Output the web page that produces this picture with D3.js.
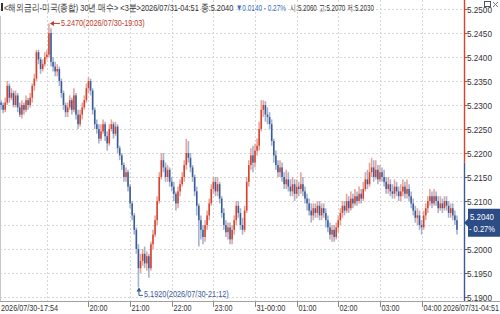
<!DOCTYPE html>
<html><head><meta charset="utf-8">
<script src="https://cdn.jsdelivr.net/npm/d3@7"></script>
<style>
html,body{margin:0;padding:0;background:#fff;}
svg{display:block;}
text{font-family:"Liberation Sans","DejaVu Sans",sans-serif;}
</style></head>
<body><svg id="c" width="500" height="314"></svg>
<script>
// ---------- data ----------
const startTime = "2026-07-30T17:54:00";
const barMinutes = 3;
const closes = [
5.2300,5.2290,5.2305,5.2340,5.2315,5.2325,5.2300,5.2320,5.2295,5.2280,
5.2300,5.2290,5.2310,5.2300,5.2315,5.2340,5.2355,5.2410,5.2395,5.2375,
5.2385,5.2400,5.2405,5.2450,5.2390,5.2380,5.2370,5.2375,5.2350,5.2325,
5.2300,5.2285,5.2295,5.2310,5.2290,5.2320,5.2280,5.2260,5.2280,5.2295,
5.2310,5.2335,5.2350,5.2330,5.2290,5.2260,5.2250,5.2230,5.2245,5.2260,
5.2235,5.2220,5.2250,5.2260,5.2240,5.2255,5.2210,5.2195,5.2175,5.2150,
5.2160,5.2130,5.2095,5.2070,5.2040,5.2000,5.1960,5.1975,5.1990,5.1970,
5.1985,5.1960,5.2010,5.2030,5.2060,5.2100,5.2150,5.2185,5.2170,5.2150,
5.2165,5.2140,5.2130,5.2115,5.2095,5.2120,5.2135,5.2150,5.2175,5.2200,
5.2190,5.2170,5.2150,5.2120,5.2090,5.2060,5.2040,5.2025,5.2050,5.2070,
5.2095,5.2125,5.2140,5.2120,5.2135,5.2105,5.2075,5.2050,5.2035,5.2045,
5.2020,5.2040,5.2060,5.2090,5.2075,5.2050,5.2040,5.2080,5.2140,5.2175,
5.2195,5.2180,5.2205,5.2215,5.2250,5.2290,5.2300,5.2280,5.2275,5.2260,
5.2225,5.2195,5.2175,5.2160,5.2170,5.2150,5.2135,5.2145,5.2130,5.2120,
5.2135,5.2115,5.2130,5.2125,5.2135,5.2120,5.2105,5.2095,5.2080,5.2070,
5.2085,5.2075,5.2090,5.2070,5.2085,5.2075,5.2060,5.2045,5.2030,5.2040,
5.2025,5.2045,5.2060,5.2075,5.2090,5.2080,5.2100,5.2085,5.2105,5.2095,
5.2110,5.2100,5.2115,5.2105,5.2125,5.2145,5.2135,5.2160,5.2170,5.2150,
5.2165,5.2145,5.2160,5.2150,5.2140,5.2125,5.2135,5.2120,5.2115,5.2130,
5.2120,5.2110,5.2120,5.2130,5.2115,5.2125,5.2110,5.2095,5.2080,5.2065,
5.2070,5.2050,5.2045,5.2070,5.2085,5.2100,5.2110,5.2095,5.2110,5.2100,
5.2085,5.2095,5.2085,5.2100,5.2090,5.2075,5.2085,5.2070,5.2060,5.2040];
const opens = [
5.2305,5.2300,5.2290,5.2305,5.2340,5.2315,5.2325,5.2300,5.2320,5.2295,
5.2280,5.2300,5.2290,5.2310,5.2300,5.2315,5.2340,5.2355,5.2410,5.2395,
5.2375,5.2385,5.2400,5.2405,5.2450,5.2390,5.2380,5.2370,5.2375,5.2350,
5.2325,5.2300,5.2285,5.2295,5.2310,5.2290,5.2320,5.2280,5.2260,5.2280,
5.2295,5.2310,5.2335,5.2350,5.2330,5.2290,5.2260,5.2250,5.2230,5.2245,
5.2260,5.2235,5.2220,5.2250,5.2260,5.2240,5.2255,5.2210,5.2195,5.2175,
5.2150,5.2160,5.2130,5.2095,5.2070,5.2040,5.2000,5.1960,5.1975,5.1990,
5.1970,5.1985,5.1960,5.2010,5.2030,5.2060,5.2100,5.2150,5.2185,5.2170,
5.2150,5.2165,5.2140,5.2130,5.2115,5.2095,5.2120,5.2135,5.2150,5.2175,
5.2200,5.2190,5.2170,5.2150,5.2120,5.2090,5.2060,5.2040,5.2025,5.2050,
5.2070,5.2095,5.2125,5.2140,5.2120,5.2135,5.2105,5.2075,5.2050,5.2035,
5.2045,5.2020,5.2040,5.2060,5.2090,5.2075,5.2050,5.2040,5.2080,5.2140,
5.2175,5.2195,5.2180,5.2205,5.2215,5.2250,5.2290,5.2300,5.2280,5.2275,
5.2260,5.2225,5.2195,5.2175,5.2160,5.2170,5.2150,5.2135,5.2145,5.2130,
5.2120,5.2135,5.2115,5.2130,5.2125,5.2135,5.2120,5.2105,5.2095,5.2080,
5.2070,5.2085,5.2075,5.2090,5.2070,5.2085,5.2075,5.2060,5.2045,5.2030,
5.2040,5.2025,5.2045,5.2060,5.2075,5.2090,5.2080,5.2100,5.2085,5.2105,
5.2095,5.2110,5.2100,5.2115,5.2105,5.2125,5.2145,5.2135,5.2160,5.2170,
5.2150,5.2165,5.2145,5.2160,5.2150,5.2140,5.2125,5.2135,5.2120,5.2115,
5.2130,5.2120,5.2110,5.2120,5.2130,5.2115,5.2125,5.2110,5.2095,5.2080,
5.2065,5.2070,5.2050,5.2045,5.2070,5.2085,5.2100,5.2110,5.2095,5.2110,
5.2100,5.2085,5.2095,5.2085,5.2100,5.2090,5.2075,5.2085,5.2070,5.2060];
const highs = [
5.2310,5.2305,5.2315,5.2350,5.2345,5.2335,5.2330,5.2330,5.2325,5.2305,
5.2310,5.2305,5.2320,5.2315,5.2325,5.2345,5.2365,5.2415,5.2415,5.2400,
5.2395,5.2410,5.2415,5.2470,5.2460,5.2400,5.2390,5.2385,5.2380,5.2355,
5.2330,5.2305,5.2305,5.2320,5.2315,5.2335,5.2325,5.2290,5.2290,5.2305,
5.2320,5.2345,5.2358,5.2355,5.2335,5.2295,5.2270,5.2260,5.2260,5.2270,
5.2265,5.2245,5.2260,5.2270,5.2265,5.2265,5.2260,5.2215,5.2200,5.2180,
5.2170,5.2165,5.2135,5.2100,5.2075,5.2045,5.2010,5.1990,5.2000,5.2005,
5.1995,5.1990,5.2015,5.2040,5.2070,5.2110,5.2160,5.2200,5.2200,5.2180,
5.2175,5.2170,5.2150,5.2140,5.2120,5.2130,5.2145,5.2160,5.2185,5.2230,
5.2225,5.2200,5.2175,5.2155,5.2130,5.2095,5.2070,5.2050,5.2060,5.2080,
5.2105,5.2135,5.2150,5.2150,5.2150,5.2140,5.2110,5.2085,5.2060,5.2055,
5.2055,5.2050,5.2070,5.2100,5.2100,5.2085,5.2065,5.2090,5.2150,5.2185,
5.2210,5.2215,5.2220,5.2230,5.2265,5.2310,5.2310,5.2308,5.2295,5.2285,
5.2270,5.2230,5.2205,5.2185,5.2185,5.2180,5.2160,5.2165,5.2160,5.2145,
5.2150,5.2145,5.2145,5.2140,5.2160,5.2150,5.2130,5.2115,5.2105,5.2095,
5.2095,5.2095,5.2100,5.2100,5.2095,5.2095,5.2085,5.2070,5.2055,5.2050,
5.2050,5.2055,5.2070,5.2085,5.2100,5.2100,5.2115,5.2110,5.2120,5.2115,
5.2125,5.2120,5.2130,5.2125,5.2140,5.2160,5.2165,5.2180,5.2190,5.2185,
5.2185,5.2175,5.2175,5.2170,5.2165,5.2150,5.2150,5.2145,5.2135,5.2145,
5.2140,5.2130,5.2135,5.2145,5.2140,5.2145,5.2135,5.2120,5.2105,5.2090,
5.2085,5.2080,5.2060,5.2080,5.2095,5.2110,5.2125,5.2120,5.2125,5.2120,
5.2110,5.2110,5.2105,5.2110,5.2110,5.2100,5.2095,5.2095,5.2080,5.2070];
const lows = [
5.2290,5.2283,5.2285,5.2300,5.2305,5.2310,5.2295,5.2295,5.2285,5.2275,
5.2272,5.2280,5.2285,5.2290,5.2295,5.2305,5.2330,5.2350,5.2385,5.2365,
5.2370,5.2380,5.2395,5.2400,5.2380,5.2370,5.2360,5.2360,5.2340,5.2315,
5.2290,5.2275,5.2275,5.2290,5.2280,5.2285,5.2270,5.2250,5.2255,5.2270,
5.2290,5.2305,5.2325,5.2320,5.2280,5.2250,5.2240,5.2220,5.2225,5.2240,
5.2225,5.2205,5.2215,5.2245,5.2230,5.2235,5.2200,5.2185,5.2165,5.2140,
5.2140,5.2120,5.2085,5.2060,5.2030,5.1990,5.1920,5.1950,5.1965,5.1960,
5.1955,5.1940,5.1955,5.2000,5.2025,5.2050,5.2095,5.2145,5.2160,5.2140,
5.2140,5.2130,5.2120,5.2100,5.2080,5.2085,5.2110,5.2130,5.2140,5.2165,
5.2180,5.2160,5.2140,5.2110,5.2070,5.2005,5.2020,5.2010,5.2015,5.2040,
5.2060,5.2090,5.2115,5.2110,5.2110,5.2095,5.2065,5.2040,5.2025,5.2020,
5.2010,5.2010,5.2030,5.2050,5.2065,5.2040,5.2030,5.2035,5.2075,5.2130,
5.2165,5.2160,5.2170,5.2195,5.2205,5.2245,5.2275,5.2265,5.2260,5.2250,
5.2215,5.2180,5.2165,5.2150,5.2150,5.2140,5.2125,5.2125,5.2120,5.2110,
5.2110,5.2100,5.2105,5.2110,5.2115,5.2110,5.2095,5.2080,5.2070,5.2055,
5.2060,5.2065,5.2065,5.2060,5.2060,5.2065,5.2045,5.2035,5.2020,5.2015,
5.2015,5.2020,5.2035,5.2050,5.2065,5.2070,5.2075,5.2075,5.2080,5.2085,
5.2090,5.2090,5.2095,5.2095,5.2100,5.2120,5.2125,5.2130,5.2150,5.2140,
5.2145,5.2135,5.2140,5.2140,5.2130,5.2115,5.2115,5.2110,5.2105,5.2105,
5.2110,5.2100,5.2100,5.2110,5.2105,5.2105,5.2100,5.2085,5.2070,5.2055,
5.2050,5.2040,5.2030,5.2040,5.2060,5.2075,5.2090,5.2085,5.2090,5.2090,
5.2075,5.2080,5.2075,5.2080,5.2080,5.2065,5.2065,5.2060,5.2050,5.2030];
const prevClose = 5.2180;
const priceTicks = [5.1900,5.1950,5.2000,5.2050,5.2100,5.2150,5.2200,5.2250,5.2300,5.2350,5.2400,5.2450,5.2500];
const hourGrid = ["2026-07-30T19:00","2026-07-30T20:00","2026-07-30T21:00","2026-07-30T22:00","2026-07-30T23:00","2026-07-31T00:00","2026-07-31T01:00","2026-07-31T02:00","2026-07-31T03:00","2026-07-31T04:00"];
const hourLabels = ["","20:00","21:00","22:00","23:00","31-00:00","01:00","02:00","03:00","04:00"];
const firstLabel = "2026/07/30-17:54";
const lastLabel = "2026/07/31-04:51";
const headerA = "<해외금리-미국(종합) 30년 매수> <3분>2026/07/31-04:51 종:5.2040";
const headerB = "▼0.0140 - 0.27%";
const headerC = "시:5.2060 고:5.2070 저:5.2030";
const highNote = "5.2470(2026/07/30-19:03)";
const lowNote = "5.1920(2026/07/30-21:12)";
const lastPrice = "5.2040";
const lastChange = "- 0.27%";

// ---------- chart ----------
const RED = "#d8412c", BLUE = "#3b5b98", RED_L = "#e9a59b", BLUE_L = "#a3b3d1";
const svg = d3.select("#c");
const parse = d3.timeParse("%Y-%m-%dT%H:%M:%S");
const parseH = d3.timeParse("%Y-%m-%dT%H:%M");
const t0 = parse(startTime);
const bars = closes.map((c, i) => ({
  t: d3.timeMinute.offset(t0, i * barMinutes), o: opens[i], h: highs[i], l: lows[i], c: c
}));
const tEnd = d3.timeMinute.offset(t0, bars.length * barMinutes);
const x = d3.scaleTime().domain([t0, tEnd]).range([0, 458]);
const bw = x(d3.timeMinute.offset(t0, barMinutes)) - x(t0);
const y = d3.scaleLinear().domain([5.19, 5.25]).range([297, 9]);
const axisX = 464;

// text helper: place text with its left edge at x0 and squeeze it horizontally to width w
function fitText(parent, str, x0, y0, w, size, fill, family) {
  const t = parent.append("text").attr("x", 0).attr("y", 0).attr("font-size", size).attr("fill", fill).text(str);
  if (family) t.attr("font-family", family);
  const nat = t.node().getComputedTextLength();
  const s = Math.min(1, w / nat);
  t.attr("transform", `translate(${x0},${y0}) scale(${s},1)`);
  return nat * s;
}

// grid
const g = svg.append("g");
g.selectAll(".hg").data(priceTicks).join("line")
  .attr("x1", 0).attr("x2", axisX).attr("y1", d => Math.round(y(d)) + 0.5).attr("y2", d => Math.round(y(d)) + 0.5)
  .attr("stroke", "#d6d6d6").attr("stroke-dasharray", "2,2");
g.selectAll(".vg").data(hourGrid).join("line")
  .attr("x1", d => Math.round(x(parseH(d)) + bw / 2) + 0.5).attr("x2", d => Math.round(x(parseH(d)) + bw / 2) + 0.5)
  .attr("y1", 0).attr("y2", 301).attr("stroke", "#d6d6d6").attr("stroke-dasharray", "2,2");

// left border
svg.append("line").attr("x1", 0.5).attr("x2", 0.5).attr("y1", 16).attr("y2", 301).attr("stroke", "#c8c8c8");

// candles
const cg = svg.append("g");
cg.selectAll(".wick").data(bars).join("line")
  .attr("x1", d => x(d.t) + bw / 2).attr("x2", d => x(d.t) + bw / 2)
  .attr("y1", d => y(d.h)).attr("y2", d => y(d.l))
  .attr("stroke", d => d.c >= d.o ? RED_L : BLUE_L).attr("stroke-width", 1.6);
cg.selectAll(".body").data(bars).join("rect")
  .attr("x", d => x(d.t) + bw / 2 - 0.75).attr("width", 1.5)
  .attr("y", d => y(Math.max(d.o, d.c)))
  .attr("height", d => Math.max(1, Math.abs(y(d.o) - y(d.c))))
  .attr("fill", d => d.c >= d.o ? RED : BLUE);

// high / low annotations
const hiBar = bars.reduce((a, b) => b.h > a.h ? b : a);
const loBar = bars.reduce((a, b) => b.l < a.l ? b : a);
const hx = x(hiBar.t) + bw / 2 + 1, hy = y(hiBar.h);
svg.append("line").attr("x1", hx + 1).attr("x2", hx + 10).attr("y1", hy).attr("y2", hy).attr("stroke", "#c0392b");
svg.append("path").attr("d", `M${hx},${hy}l4,-2.5v5z`).attr("fill", "#c0392b");
fitText(svg, highNote, hx + 11, hy + 3, 84, 9, "#c0392b");
const lx = x(loBar.t) + bw / 2 + 0.5, ly = y(loBar.l);
svg.append("line").attr("x1", lx).attr("x2", lx).attr("y1", ly + 1).attr("y2", ly + 8).attr("stroke", BLUE);
svg.append("line").attr("x1", lx).attr("x2", lx + 4).attr("y1", ly + 8).attr("y2", ly + 8).attr("stroke", BLUE);
svg.append("path").attr("d", `M${lx},${ly}l-2.5,4h5z`).attr("fill", BLUE);
fitText(svg, lowNote, lx + 5, ly + 10, 85, 9, BLUE);

// right axis
const yPrev = y(prevClose);
const yl = y(closes[closes.length - 1]);
const boxTop = yl - 21, boxBot = yl + 7;
svg.append("line").attr("x1", axisX + 0.5).attr("x2", axisX + 0.5).attr("y1", 0).attr("y2", yPrev).attr("stroke", RED).attr("stroke-width", 1.4);
svg.append("line").attr("x1", axisX + 0.5).attr("x2", axisX + 0.5).attr("y1", yPrev).attr("y2", 301).attr("stroke", BLUE).attr("stroke-width", 1.4);
const shownTicks = priceTicks.filter(d => y(d) < boxTop - 3 || y(d) > boxBot + 3);
const yAxis = d3.axisRight(y).tickValues(shownTicks).tickSize(3).tickFormat(() => "");
const ya = svg.append("g").attr("transform", `translate(${axisX + 0.5},0)`).call(yAxis);
ya.select(".domain").remove();
ya.selectAll(".tick line").attr("stroke", d => d >= prevClose ? RED : BLUE);
ya.selectAll(".tick text").remove();
const fmt = d3.format(".4f");
shownTicks.forEach(d => fitText(svg, fmt(d), axisX + 3, y(d) + 3.5, 25, 9, "#333"));

// last price box
svg.append("path").attr("d", `M${axisX},${yl - 7} l4,-4 V${boxTop} h32 V${boxBot} h-32 V${yl - 3} z`).attr("fill", "#2c4c86");
fitText(svg, lastPrice, 470, boxTop + 11, 24, 9, "#fff");
fitText(svg, lastChange, 469, boxTop + 23, 26, 9, "#fff");

// bottom axis
svg.append("rect").attr("x", 0).attr("y", 301).attr("width", 500).attr("height", 13).attr("fill", "#fff");
svg.append("line").attr("x1", 0).attr("x2", 500).attr("y1", 301.5).attr("y2", 301.5).attr("stroke", "#a0a0a0");
const xt = svg.append("g");
hourGrid.forEach((d, i) => {
  if (!hourLabels[i]) return;
  const px = Math.round(x(parseH(d)) + bw / 2) + 0.5;
  xt.append("line").attr("x1", px).attr("x2", px).attr("y1", 302).attr("y2", 307).attr("stroke", "#888");
  fitText(xt, hourLabels[i], px + 1, 311, hourLabels[i].length * 3.6, 9, "#333");
});
fitText(xt, firstLabel, 1, 311, 57, 9, "#333");
fitText(xt, lastLabel, 443, 311, 56, 9, "#333");

// header
svg.append("rect").attr("x", 1).attr("y", 3).attr("width", 2).attr("height", 8).attr("fill", "#333");
const hFont = "'Noto Sans CJK KR',sans-serif";
let hxPos = 4;
hxPos += fitText(svg, headerA, hxPos, 11, 229, 9.5, "#333", hFont) + 3;
hxPos += fitText(svg, headerB, hxPos, 11, 50, 9.5, "#3b6fc4", hFont) + 4;
fitText(svg, headerC, hxPos, 11, 85, 9.5, "#333", hFont);

// window icons
svg.append("rect").attr("x", 484.5).attr("y", 1.5).attr("width", 6).attr("height", 5).attr("fill", "none").attr("stroke", "#555");
svg.append("path").attr("d", "M493,2l5,5M498,2l-5,5").attr("stroke", "#777");
</script></body></html>
